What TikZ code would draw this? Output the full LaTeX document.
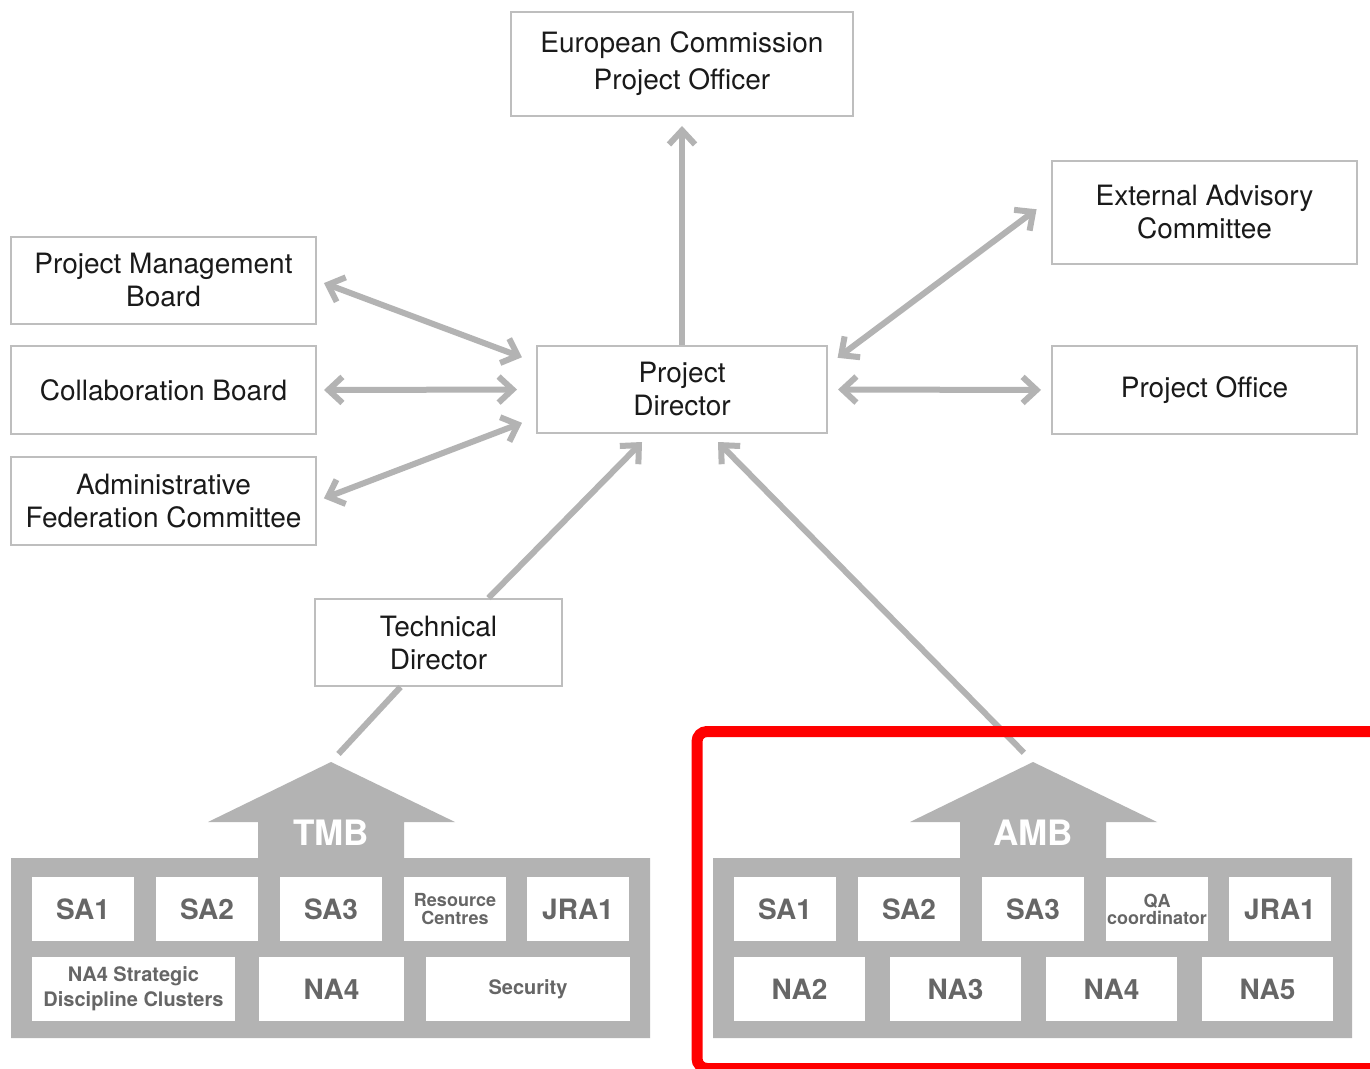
\documentclass[tikz,border=0pt]{standalone}
\usepackage{fontspec}
\setmainfont{TeX Gyre Heros}
\usetikzlibrary{arrows.meta, calc, positioning}
\definecolor{linegray}{RGB}{179,179,179}
\definecolor{boxgray}{RGB}{190,190,190}
\definecolor{cellgray}{RGB}{102,102,102}
\definecolor{textblack}{RGB}{26,26,26}

\begin{document}
\begin{tikzpicture}[x=0.5pt, y=-0.5pt, >={Straight Barb[length=7pt,width=13pt]}, node distance=11pt]
	\tikzstyle{board} = [draw=boxgray, line width=1pt, fill=white, text=textblack, align=center, inner sep=0pt, font=\fontsize{14}{16.5}\selectfont]
	\tikzstyle{link} = [linegray, line width=3pt]
	\tikzstyle{house} = [fill=linegray]
	\tikzstyle{housetitle} = [text=white, inner sep=0pt, font=\fontsize{17.5}{20}\selectfont\bfseries]
	\tikzstyle{cell} = [fill=white, inner sep=0pt, outer sep=0pt, minimum height=32pt, text=cellgray, align=center, font=\fontsize{14}{16}\selectfont\bfseries]
	\tikzstyle{wp} = [cell, minimum width=51pt]

	\clip (0,0) rectangle (1370,1069);
	\fill[white] (0,0) rectangle (1370,1069);

	% boards round the director
	\node[board, minimum width=145pt, minimum height=43.5pt] (pd) at (682,389.5) {Project\\Director};
	\node[board, minimum width=171pt, minimum height=52pt, font=\fontsize{14}{18.5}\selectfont] (ec) at (682,64) {European Commission\\Project Officer};
	\node[board, minimum width=152.5pt, minimum height=51.5pt] (eac) at (1204.5,212.5) {External Advisory\\Committee};
	\node[board, minimum width=152.5pt, minimum height=44pt] (po) at (1204.5,390) {Project Office};
	\node[board, minimum width=152.5pt, minimum height=43.5pt] (pmb) at (163.5,280.5) {Project Management\\Board};
	\node[board, minimum width=152.5pt, minimum height=44pt] (cb) at (163.5,390) {Collaboration Board};
	\node[board, minimum width=152.5pt, minimum height=44pt] (afc) at (163.5,501) {Administrative\\Federation Committee};
	\node[board, minimum width=123.5pt, minimum height=43.5pt] (td) at (438.5,642.5) {Technical\\Director};

	% technical management board
	\begin{scope}
		\fill[house] (11,858) -- (258,858) -- (258,822) -- (208,822) -- (331,762) -- (455,822) -- (404,822) -- (404,858) -- (650,858) -- (650,1038) -- (11,1038) -- cycle;
		\coordinate (tmb) at (331,762);
		\node[housetitle] (tmbname) at (331,833) {TMB};

		\node[wp] (tsa1) at (83,909) {SA1};
		\node[wp, right=of tsa1] (tsa2) {SA2};
		\node[wp, right=of tsa2] (tsa3) {SA3};
		\node[wp, right=of tsa3, font=\fontsize{9}{9}\selectfont\bfseries] (trc) {Resource\\Centres};
		\node[wp, right=10.5pt of trc] (tjra1) {JRA1};

		\node[cell, minimum width=101.5pt, font=\fontsize{10}{12.5}\selectfont\bfseries] (tsdc) at (133.5,989) {NA4 Strategic\\Discipline Clusters};
		\node[cell, minimum width=72.5pt, right=12pt of tsdc] (tna4) {NA4};
		\node[cell, minimum width=102pt, right=of tna4, font=\fontsize{10}{12}\selectfont\bfseries] (tsec) {Security};
	\end{scope}

	% activity management board
	\begin{scope}[xshift=351pt]
		\fill[house] (11,858) -- (258,858) -- (258,822) -- (208,822) -- (331,762) -- (455,822) -- (404,822) -- (404,858) -- (650,858) -- (650,1038) -- (11,1038) -- cycle;
		\coordinate (amb) at (331,762);
		\node[housetitle] (ambname) at (331,833) {AMB};

		\node[wp] (asa1) at (83,909) {SA1};
		\node[wp, right=of asa1] (asa2) {SA2};
		\node[wp, right=of asa2] (asa3) {SA3};
		\node[wp, right=of asa3, font=\fontsize{9}{8.5}\selectfont\bfseries] (aqa) {QA\\coordinator};
		\node[wp, right=10.5pt of aqa] (ajra1) {JRA1};

		\node[cell, minimum width=65.5pt] (ana2) at (97.5,989) {NA2};
		\node[cell, minimum width=65.5pt, right=12.5pt of ana2] (ana3) {NA3};
		\node[cell, minimum width=65.5pt, right=12.5pt of ana3] (ana4) {NA4};
		\node[cell, minimum width=65.5pt, right=12.5pt of ana4] (ana5) {NA5};
	\end{scope}

	% connectors
	\draw[link, ->, shorten >=4.5pt] (pd) -- (ec);
	\draw[link, <->, shorten <=3.7pt, shorten >=7.5pt] (pmb.east) -- ($(pd.west)+(0,-27)$);
	\draw[link, <->, shorten <=3.5pt, shorten >=9.5pt] (cb.east) -- (pd.west);
	\draw[link, <->, shorten <=3.7pt, shorten >=7.5pt] (afc.east) -- ($(pd.west)+(0,28)$);
	\draw[link, <->, shorten <=6pt, shorten >=9pt] ($(pd.north east)+(0,20)$) -- ($(eac.west)+(0,-14)$);
	\draw[link, <->, shorten <=5pt, shorten >=5pt] (pd.east) -- (po.west);
	\draw[link, ->] ($(td.north)+(50,0)$) -- ($(pd.south)+(-40,8)$);
	\draw[link, shorten >=5.5pt] ($(td.south)+(-38,0)$) -- (tmb);
	\draw[link, ->, shorten <=6.5pt] (amb) -- ($(pd.south)+(36,8)$);

	% highlight
	\draw[red, line width=5.5pt, rounded corners=5pt] (697,731.5) rectangle (1420,1068.5);
\end{tikzpicture}
\end{document}
